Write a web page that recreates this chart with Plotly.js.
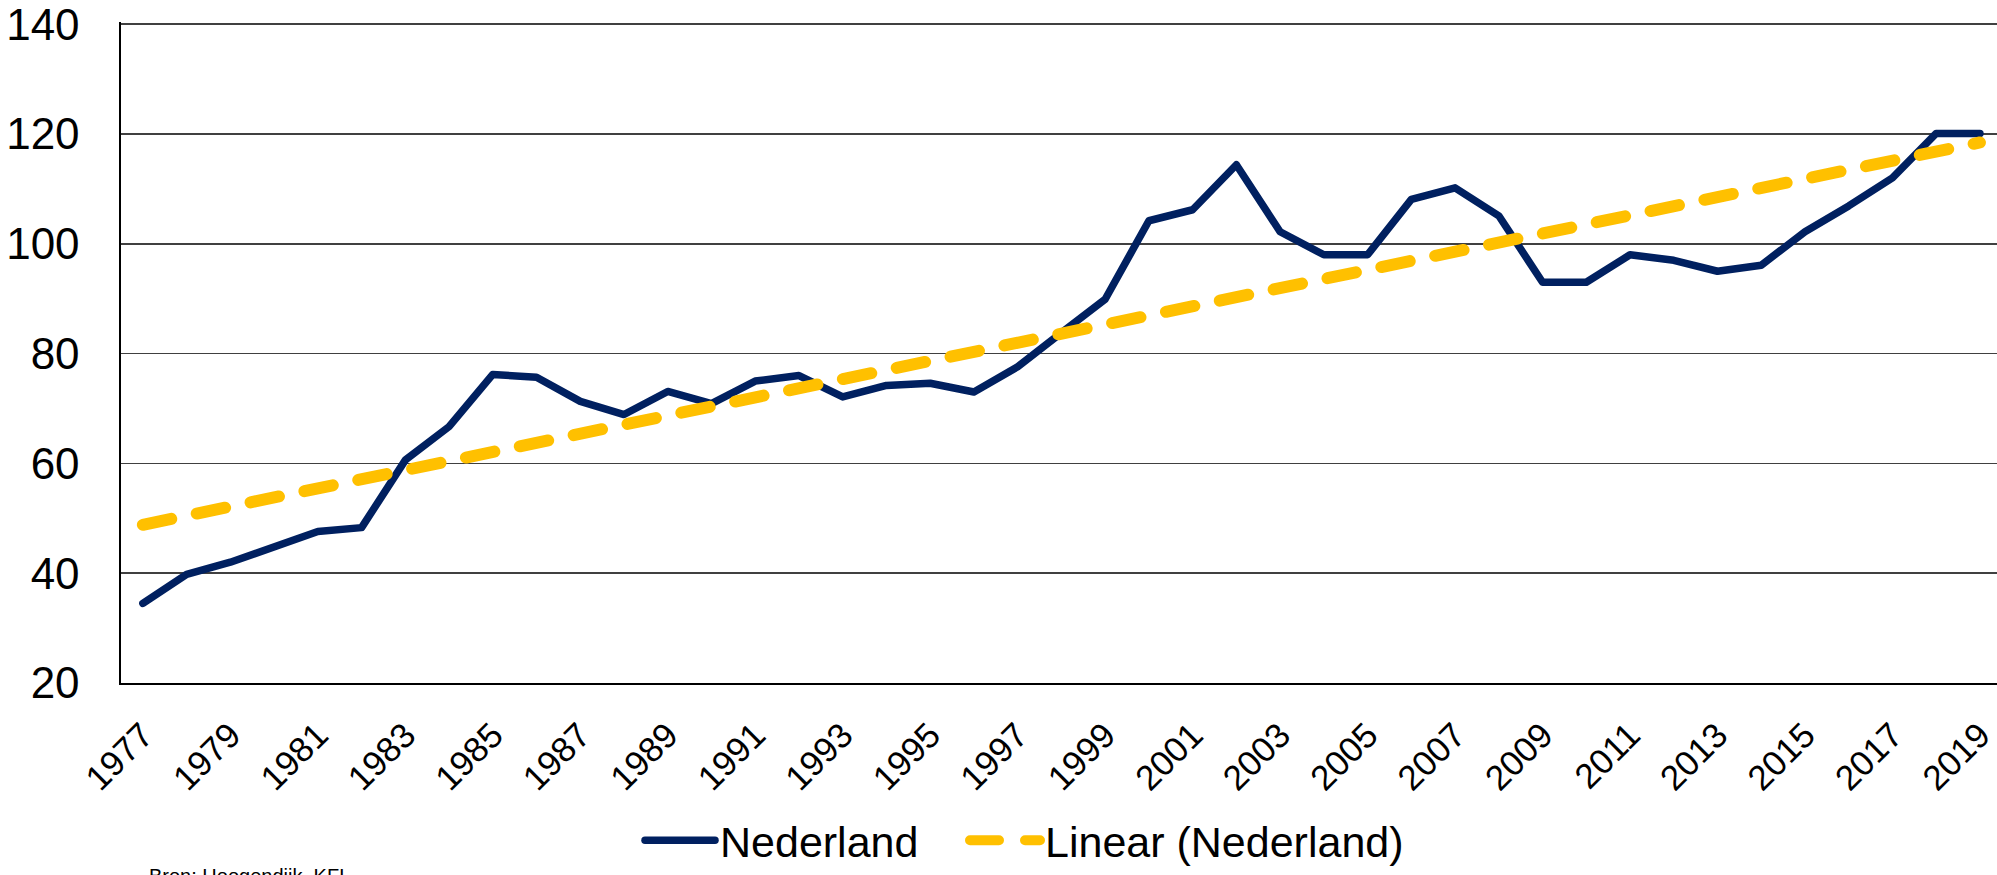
<!DOCTYPE html>
<html><head><meta charset="utf-8">
<script src="https://cdn.plot.ly/plotly-3.0.1.min.js"></script>
<style>
html,body{margin:0;padding:0;overflow:hidden;background:#fff;}
#chart{width:1997px;height:875px;}
.scatterlayer .js-line, .legendlines .js-line {stroke-linecap:round;stroke-linejoin:round;}
</style></head><body><div id="chart"></div>
<script>
const years = [1977,1978,1979,1980,1981,1982,1983,1984,1985,1986,1987,1988,1989,1990,1991,1992,1993,1994,1995,1996,1997,1998,1999,2000,2001,2002,2003,2004,2005,2006,2007,2008,2009,2010,2011,2012,2013,2014,2015,2016,2017,2018,2019];
const nederland = [34.5,39.8,42.0,44.9,47.6,48.3,60.6,66.7,76.2,75.7,71.3,68.9,73.1,70.9,75.0,76.0,72.1,74.2,74.6,73.0,77.6,83.8,89.9,104.2,106.2,114.4,102.2,98.0,98.0,108.1,110.2,105.1,93.0,93.0,98.0,97.0,95.0,96.1,102.2,106.9,112.0,120.1,120.1];
const tickYears = [1977,1979,1981,1983,1985,1987,1989,1991,1993,1995,1997,1999,2001,2003,2005,2007,2009,2011,2013,2015,2017,2019];
const tickLabels = ["1977","1979","1981","1983","1985","1987","1989","1991","1993","1995","1997","1999","2001","2003","2005","2007","2009","2011","2013","2015","2017","2019"];
const seriesName = "Nederland";
const trendName = "Linear (Nederland)";
const sourceText = "Bron: Hoogendijk, KFI";

// least-squares linear trendline (as Excel computes it)
const n = years.length;
const mx = years.reduce((a,b)=>a+b,0)/n;
const my = nederland.reduce((a,b)=>a+b,0)/n;
let sxy = 0, sxx = 0;
for (let i=0;i<n;i++){ sxy += (years[i]-mx)*(nederland[i]-my); sxx += (years[i]-mx)*(years[i]-mx); }
const slope = sxy/sxx, icpt = my - slope*mx;
const trend = years.map(x => icpt + slope*x);

const font = 'Liberation Sans, Arial, sans-serif';
const plotTop = 22, plotBottom = 691.6, plotH = plotBottom - plotTop;
const plotL = 121, plotW = 1997 - plotL;
const legendY = (plotBottom - 851) / plotH;
const traces = [
  {x: years, y: nederland, type:'scatter', mode:'lines', name: seriesName, legend:'legend',
   line:{color:'#002060', width:7.5}},
  {x: years, y: trend, type:'scatter', mode:'lines', name: trendName, legend:'legend2',
   line:{color:'#FFC000', width:12, dash:'29px,26px'}}
];
const legendFont = {size:43, color:'#000', family:font};
const layout = {
  width:1997, height:875,
  margin:{l:plotL, r:0, t:plotTop, b:875-plotBottom},
  paper_bgcolor:'#fff', plot_bgcolor:'#fff',
  font:{family:font, color:'#000'},
  showlegend:true,
  xaxis:{range:[1976.5, 2019.39], tickmode:'array', tickvals:tickYears, ticktext:tickLabels,
    tickangle:-45, showgrid:false, zeroline:false, showline:true, linecolor:'#000', linewidth:1.6,
    ticks:'', ticklabelstandoff:16, ticklabeloverflow:'allow', tickfont:{size:35, color:'#000', family:font}},
  yaxis:{range:[20,140.4], tickmode:'linear', tick0:20, dtick:20, showgrid:true, gridcolor:'#404040', gridwidth:1.6,
    zeroline:false, showline:true, linecolor:'#000', linewidth:1.6, ticks:'', ticklabelstandoff:31,
    ticklabeloverflow:'allow', tickfont:{size:44, color:'#000', family:font}},
  legend:{orientation:'h', x:(640-plotL)/plotW, xanchor:'left', y:legendY, yanchor:'middle',
    font:legendFont, itemwidth:70, bgcolor:'rgba(0,0,0,0)'},
  legend2:{orientation:'h', x:(965-plotL)/plotW, xanchor:'left', y:legendY, yanchor:'middle',
    font:legendFont, itemwidth:70, bgcolor:'rgba(0,0,0,0)'},
  annotations:[{text:sourceText, xref:'paper', yref:'paper', x:0.0139, y:(plotBottom-874)/plotH,
    xanchor:'left', yanchor:'top', showarrow:false, font:{size:20, color:'#000', family:font}}]
};
Plotly.newPlot('chart', traces, layout, {displayModeBar:false, staticPlot:true});
</script></body></html>
